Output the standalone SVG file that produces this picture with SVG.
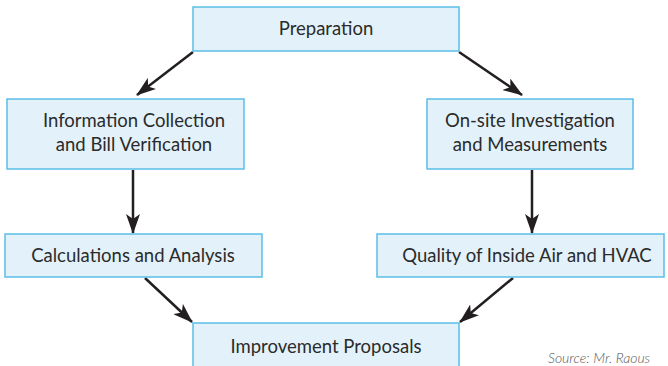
<svg xmlns="http://www.w3.org/2000/svg" width="668" height="366" viewBox="0 0 668 366">
  <defs>
    <marker id="arrow" viewBox="0 0 20 14" refX="19" refY="7" markerWidth="20" markerHeight="14" markerUnits="userSpaceOnUse" orient="auto">
      <path d="M0,0 L20,7 L0,14 L5,7 Z" fill="#231f20"/>
    </marker>
  </defs>
  <style>
    .box { fill: #e3f2fa; stroke: #5bbde8; stroke-width: 1.5; }
    .label { font-family: Lato, "Open Sans", sans-serif; font-size: 18.5px; fill: #2b2b2b; text-anchor: middle; }
    .link { stroke: #231f20; stroke-width: 2.5; fill: none; marker-end: url(#arrow); }
    .source { font-family: Lato, "Open Sans", sans-serif; font-style: italic; font-weight: 300; font-size: 14px; fill: #555; }
  </style>
  <rect width="668" height="366" fill="#ffffff"/>

  <g id="connectors">
    <line class="link" x1="193" y1="52" x2="137" y2="95"/>
    <line class="link" x1="459" y1="52" x2="522" y2="95"/>
    <line class="link" x1="133" y1="170" x2="133" y2="233"/>
    <line class="link" x1="532" y1="170" x2="532" y2="233"/>
    <line class="link" x1="145" y1="278" x2="192" y2="322"/>
    <line class="link" x1="513" y1="278" x2="460" y2="322"/>
  </g>

  <g id="preparation">
    <rect class="box" x="193" y="7" width="266" height="44"/>
    <text class="label" x="326" y="35">Preparation</text>
  </g>
  <g id="information-collection">
    <rect class="box" x="7" y="99" width="237" height="70"/>
    <text class="label" x="134" y="127">Information Collection</text>
    <text class="label" x="134" y="151">and Bill Verification</text>
  </g>
  <g id="onsite-investigation">
    <rect class="box" x="427" y="99" width="206" height="70"/>
    <text class="label" x="530" y="127">On-site Investigation</text>
    <text class="label" x="530" y="151">and Measurements</text>
  </g>
  <g id="calculations">
    <rect class="box" x="5" y="234" width="257" height="43"/>
    <text class="label" x="133" y="262">Calculations and Analysis</text>
  </g>
  <g id="air-quality">
    <rect class="box" x="377" y="234" width="287" height="43"/>
    <text class="label" x="527" y="262">Quality of Inside Air and HVAC</text>
  </g>
  <g id="improvement">
    <rect class="box" x="193" y="323" width="266" height="50"/>
    <text class="label" x="326" y="353">Improvement Proposals</text>
  </g>

  <text class="source" x="548" y="363">Source: Mr. Raous</text>
</svg>
